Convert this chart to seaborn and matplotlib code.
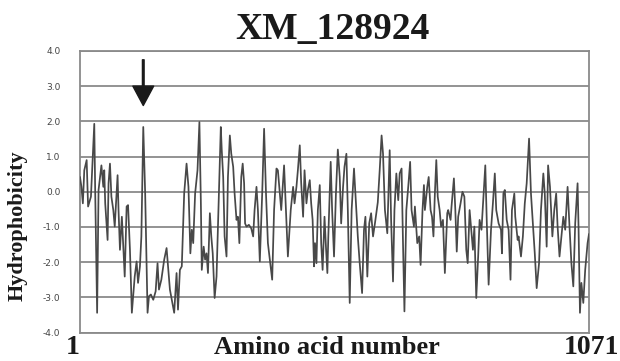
import matplotlib
matplotlib.use("Agg")
import matplotlib.pyplot as plt
import seaborn as sns
import pandas as pd

title = "XM_128924"
ylabel = "Hydrophobicity"
xlabel = "Amino acid number"
first_residue = 1
last_residue = 1071
arrow_residue = 134
yticks = [4.0, 3.0, 2.0, 1.0, 0.0, -1.0, -2.0, -3.0, -4.0]

residues = [
    1, 4, 7, 10, 15, 18, 24, 31, 33, 37, 40, 46, 50, 52, 54, 59, 61, 64, 67, 71,
    74, 80, 82, 85, 89, 95, 99, 102, 106, 110, 116, 120, 123, 127, 130, 134, 138, 143, 146, 150,
    155, 160, 164, 167, 172, 178, 183, 186, 190, 194, 199, 204,
    207, 211, 215, 220, 225, 229, 233, 236, 239, 243, 248, 252, 255, 257, 261, 264, 267, 270,
    274, 277, 280, 284, 288, 292, 297, 299, 302, 305, 309, 312, 316, 319, 323, 326, 330, 333,
    336, 340, 343, 346, 348, 351, 356, 361, 365, 368, 372, 375, 379, 384, 388, 392, 396, 400,
    405, 409, 414,
    417, 421, 424, 430, 434, 438, 444, 449, 452, 456, 459, 463, 466, 470, 473, 477, 480, 484,
    487, 490, 493, 495, 498, 501, 505, 508, 511, 515, 518, 521, 523, 528, 531, 535, 539, 543,
    547, 550, 554, 557, 561, 564, 568, 572, 577, 581, 585, 589, 594, 598, 601, 605, 609, 613,
    617, 621, 627,
    631, 635, 638, 642, 647, 652, 655, 659, 662, 666, 670, 673, 677, 680, 683, 687, 691, 695,
    698, 703, 705, 710, 714, 717, 721, 724, 726, 731, 734, 738, 741, 744, 747, 750, 753, 757,
    760, 764, 768, 773, 775, 780, 782, 787, 790, 793, 796, 801, 805, 809, 813, 816, 820, 823,
    827, 830, 834,
    838, 841, 845, 849, 853, 856, 860, 865, 869, 873, 876, 881, 886, 888, 891, 894, 898, 902,
    906, 909, 914, 916, 921, 923, 928, 932, 936, 940, 945, 949, 953, 957, 961, 966, 970, 975,
    978, 982, 985, 989, 994, 998, 1002, 1005, 1009, 1013, 1017, 1021, 1026, 1030, 1034, 1038, 1042, 1047,
    1049, 1052, 1055, 1059, 1063, 1068, 1071,
]

hydrophobicity = [
    0.42, 0.14, -0.33, 0.61, 0.90, -0.42, -0.14, 1.93, -0.05, -3.44, 0.05, 0.75, 0.14, 0.61, -0.33, -1.37, 0.24, 0.80, -0.14, -0.52,
    -0.99, 0.47, -0.52, -1.65, -0.71, -2.41, -0.42, -0.38, -1.65, -3.44, -2.41, -1.98, -2.59, -2.12, -1.27, 1.84, -0.05, -3.44, -2.97, -2.92,
    -3.07, -2.83, -2.03, -2.78, -2.50, -1.93, -1.60, -2.12, -2.78, -3.07, -3.44, -2.31,
    -3.35, -2.22, -2.12, -0.05, 0.80, 0.14, -1.75, -1.08, -1.46, -0.05, 0.61, 1.98, -0.24, -2.22, -1.56, -1.93, -1.75, -2.31,
    -0.61, -1.27, -1.75, -3.02, -2.41, -0.52, 1.84, 1.18, 0.42, -1.27, -1.84, 0.42, 1.60, 1.08, 0.71, -0.05, -0.80, -0.71,
    -1.46, 0.42, 0.80, 0.24, -0.90, -0.99, -0.94, -1.04, -1.27, -0.52, 0.14, -0.52, -1.98, -0.05, 1.79, -0.05, -1.46, -1.93,
    -2.50, -0.52, 0.66,
    0.61, -0.05, -0.52, 0.75, -0.52, -1.84, -0.52, 0.14, -0.33, 0.14, 0.61, 1.32, 0.24, -0.71, 0.61, -0.33, 0.05, 0.33,
    -0.33, -0.80, -2.12, -1.46, -2.03, -0.52, 0.19, -1.46, -2.22, -0.71, -1.56, -2.31, -1.27, 0.85, -0.52, -1.84, -0.05, 1.20,
    0.42, -0.90, 0.14, 0.71, 1.08, -0.52, -3.16, -0.52, 0.66, -0.33, -1.27, -2.03, -2.88, -1.08, -0.71, -2.41, -0.90, -0.61,
    -1.27, -0.90, -0.30,
    0.61, 1.60, 1.08, -0.52, -1.18, 1.18, -0.80, -2.55, -0.52, 0.52, -0.24, 0.52, 0.66, -1.46, -3.40, -0.52, 0.14, 0.85,
    -0.52, -0.99, -0.42, -1.46, -1.27, -2.08, -0.52, 0.19, -0.52, 0.14, 0.42, -0.52, -0.71, -1.27, -0.05, 0.90, -0.14, -0.52,
    -0.99, -0.80, -2.31, -0.61, -0.52, -0.80, -0.42, 0.38, -0.52, -1.70, -0.71, -0.33, 0.00, -0.14, -1.65, -2.03, -0.52, -0.99,
    -1.65, -0.99, -3.02,
    -1.84, -0.80, -1.08, -0.14, 0.75, -0.80, -2.64, -1.08, -0.33, 0.52, -0.52, -0.90, -1.08, -1.75, -0.05, 0.05, -0.80, -1.08,
    -2.50, -0.52, -0.05, -0.71, -1.37, -1.27, -1.84, -1.27, -0.33, 0.24, 1.51, -0.05, -0.90, -1.75, -2.74, -2.03, -0.52, 0.52,
    -0.05, -1.56, 0.75, 0.14, -1.27, -0.52, -0.05, -0.99, -1.84, -1.27, -0.71, -1.08, 0.14, -0.99, -2.03, -2.69, -0.90, 0.24,
    -0.99, -3.44, -2.59, -3.16, -2.22, -1.46, -1.20,
]

df = pd.DataFrame({"residue": residues, "hydrophobicity": hydrophobicity})

sns.set_theme(style="white")
plt.rcParams["font.family"] = ["DejaVu Sans"]

fig = plt.figure(figsize=(6.2, 3.61), dpi=100)
ax = fig.add_axes([80 / 620, 1 - 332.5 / 361, (589 - 80) / 620, (332.5 - 51) / 361])

sns.lineplot(data=df, x="residue", y="hydrophobicity", ax=ax, color="#484848",
             linewidth=1.25, estimator=None, sort=False, zorder=3)

ax.set_xlim(first_residue, last_residue)
ax.set_ylim(-4.0, 4.0)
ax.set_yticks(yticks)
ax.set_yticklabels([f"{t:.1f}" for t in yticks], fontsize=6.5, color="#444444",
                   fontfamily="DejaVu Sans")
ax.tick_params(axis="y", length=0, pad=14)
ax.set_xticks([])
ax.grid(axis="y", color="#8a8a8a", linewidth=1.3, zorder=1)
ax.grid(axis="x", visible=False)
for side in ["left", "right", "top", "bottom"]:
    ax.spines[side].set_color("#8a8a8a")
    ax.spines[side].set_linewidth(1.3)
ax.set_xlabel("")
ax.set_ylabel("")

serif = ["Liberation Serif", "DejaVu Serif"]
fig.text(332 / 620, 1 - 29 / 361, title, ha="center", va="center",
         fontsize=27, fontweight="bold", family=serif, color="#1a1a1a")
fig.text(18 / 620, 1 - 226 / 361, ylabel, ha="center", va="center", rotation=90,
         fontsize=16, fontweight="bold", family=serif, color="#1a1a1a")
fig.text(327 / 620, 1 - 347 / 361, xlabel, ha="center", va="center",
         fontsize=19, fontweight="bold", family=serif, color="#1a1a1a")
fig.text(73 / 620, 1 - 347 / 361, str(first_residue), ha="center", va="center",
         fontsize=20, fontweight="bold", family=serif, color="#1a1a1a")
fig.text(591 / 620, 1 - 347 / 361, str(last_residue), ha="center", va="center",
         fontsize=20, fontweight="bold", family=serif, color="#1a1a1a")

ax.annotate("", xy=(arrow_residue, 2.45), xytext=(arrow_residue, 3.75),
            arrowprops=dict(facecolor="#1a1a1a", edgecolor="#1a1a1a",
                            width=1.2, headwidth=15, headlength=14),
            zorder=5)

fig.savefig("out.png", dpi=100)
